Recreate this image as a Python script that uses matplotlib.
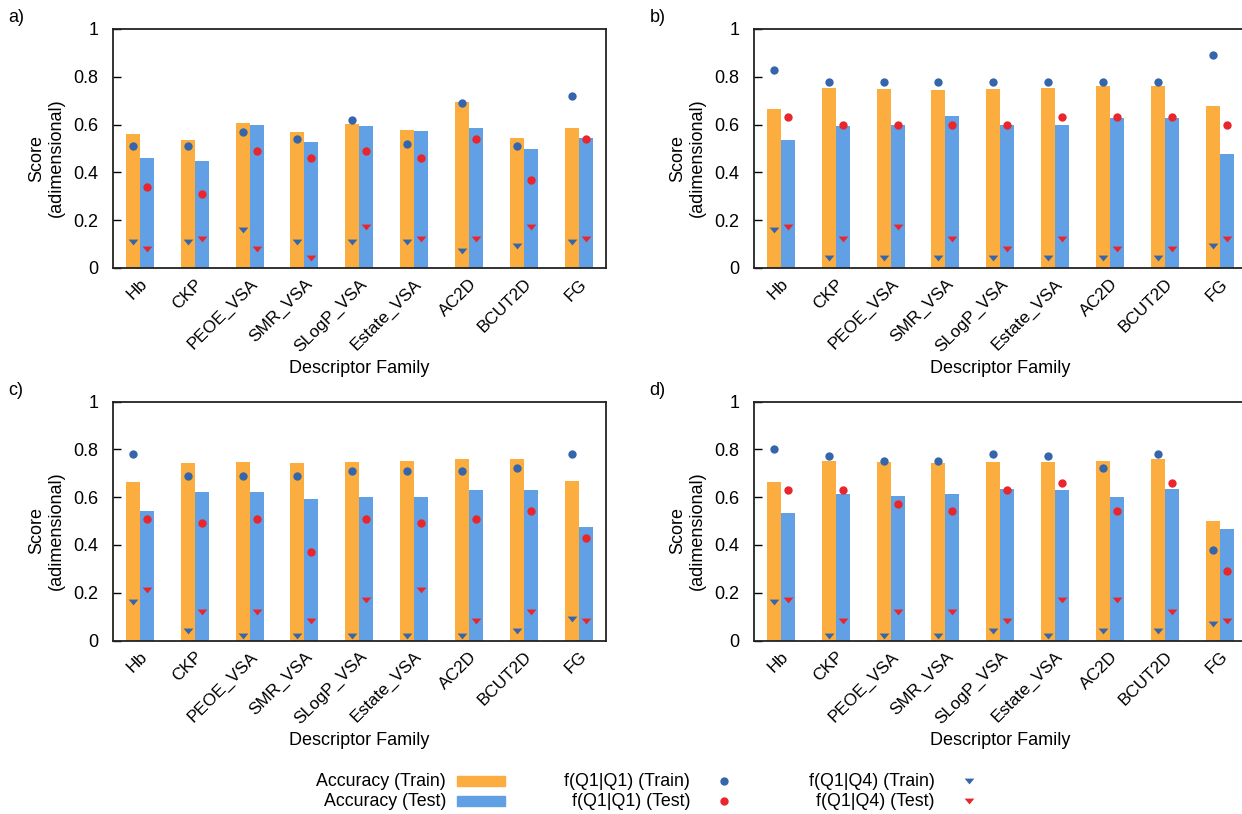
import numpy as np
import matplotlib
matplotlib.use('Agg')
import matplotlib.pyplot as plt
from matplotlib.lines import Line2D
from matplotlib.patches import Rectangle

plt.rcParams['font.family'] = ['Liberation Sans', 'DejaVu Sans']
plt.rcParams['font.size'] = 13

# descriptor families
familias = ['Hb', 'CKP', 'PEOE_VSA', 'SMR_VSA', 'SLogP_VSA', 'Estate_VSA', 'AC2D', 'BCUT2D', 'FG']

# panel a
acc_train_a = [0.56, 0.535, 0.606, 0.568, 0.602, 0.577, 0.696, 0.543, 0.585]
acc_test_a = [0.459, 0.447, 0.598, 0.527, 0.594, 0.573, 0.585, 0.497, 0.543]
q11_train_a = [0.51, 0.51, 0.57, 0.54, 0.62, 0.52, 0.69, 0.51, 0.72]
q11_test_a = [0.34, 0.31, 0.49, 0.46, 0.49, 0.46, 0.54, 0.37, 0.54]
q14_train_a = [0.11, 0.11, 0.16, 0.11, 0.11, 0.11, 0.07, 0.09, 0.11]
q14_test_a = [0.08, 0.12, 0.08, 0.04, 0.17, 0.12, 0.12, 0.17, 0.12]

# panel b
acc_train_b = [0.665, 0.753, 0.749, 0.744, 0.749, 0.753, 0.761, 0.761, 0.677]
acc_test_b = [0.535, 0.594, 0.598, 0.635, 0.598, 0.598, 0.627, 0.627, 0.476]
q11_train_b = [0.83, 0.78, 0.78, 0.78, 0.78, 0.78, 0.78, 0.78, 0.89]
q11_test_b = [0.63, 0.60, 0.60, 0.60, 0.60, 0.63, 0.63, 0.63, 0.60]
q14_train_b = [0.16, 0.04, 0.04, 0.04, 0.04, 0.04, 0.04, 0.04, 0.09]
q14_test_b = [0.17, 0.12, 0.17, 0.12, 0.08, 0.12, 0.08, 0.08, 0.12]

# panel c
acc_train_c = [0.663, 0.743, 0.747, 0.743, 0.747, 0.751, 0.759, 0.759, 0.667]
acc_test_c = [0.541, 0.621, 0.621, 0.592, 0.600, 0.600, 0.629, 0.629, 0.474]
q11_train_c = [0.78, 0.69, 0.69, 0.69, 0.71, 0.71, 0.71, 0.72, 0.78]
q11_test_c = [0.51, 0.49, 0.51, 0.37, 0.51, 0.49, 0.51, 0.54, 0.43]
q14_train_c = [0.16, 0.04, 0.02, 0.02, 0.02, 0.02, 0.02, 0.04, 0.09]
q14_test_c = [0.21, 0.12, 0.12, 0.08, 0.17, 0.21, 0.08, 0.12, 0.08]

# panel d
acc_train_d = [0.663, 0.751, 0.747, 0.743, 0.747, 0.747, 0.751, 0.759, 0.499]
acc_test_d = [0.533, 0.613, 0.604, 0.613, 0.634, 0.629, 0.600, 0.634, 0.466]
q11_train_d = [0.80, 0.77, 0.75, 0.75, 0.78, 0.77, 0.72, 0.78, 0.38]
q11_test_d = [0.63, 0.63, 0.57, 0.54, 0.63, 0.66, 0.54, 0.66, 0.29]
q14_train_d = [0.16, 0.02, 0.02, 0.02, 0.04, 0.02, 0.04, 0.04, 0.07]
q14_test_d = [0.17, 0.08, 0.12, 0.12, 0.08, 0.17, 0.17, 0.12, 0.08]

naranja = '#fbad3f'
celeste = '#62a0e6'
azul = '#3566ab'
rojo = '#e8262b'

# flattened down-triangle like gnuplot's
tri = [(-1, 0.6), (1, 0.6), (0, -0.6), (-1, 0.6)]

W, H = 1242, 814
fig = plt.figure(figsize=(W / 100, H / 100), dpi=100)

ancho = 493.5 / W
alto = 239 / H
paneles = [
    ('a)', 112.5, 29, acc_train_a, acc_test_a, q11_train_a, q11_test_a, q14_train_a, q14_test_a),
    ('b)', 753.5, 29, acc_train_b, acc_test_b, q11_train_b, q11_test_b, q14_train_b, q14_test_b),
    ('c)', 112.5, 401.5, acc_train_c, acc_test_c, q11_train_c, q11_test_c, q14_train_c, q14_test_c),
    ('d)', 753.5, 401.5, acc_train_d, acc_test_d, q11_train_d, q11_test_d, q14_train_d, q14_test_d),
]

x = np.arange(len(familias))
w = 0.255

for etiqueta, px, py, atr, ate, c_tr, c_te, t_tr, t_te in paneles:
    ax = fig.add_axes([px / W, 1 - py / H - alto, ancho, alto])
    ax.bar(x - w, atr, w, align='edge', color=naranja, zorder=1)
    ax.bar(x, ate, w, align='edge', color=celeste, zorder=1)
    ax.plot(x - w / 2, c_tr, 'o', color=azul, ms=6, mew=0, zorder=3)
    ax.plot(x + w / 2, c_te, 'o', color=rojo, ms=6, mew=0, zorder=3)
    ax.plot(x - w / 2, t_tr, marker=tri, ls='none', color=azul, ms=7, mew=0, zorder=3)
    ax.plot(x + w / 2, t_te, marker=tri, ls='none', color=rojo, ms=7, mew=0, zorder=3)

    ax.set_xlim(-0.5, 8.5)
    ax.set_ylim(0, 1)
    ax.set_yticks([0, 0.2, 0.4, 0.6, 0.8, 1])
    ax.set_yticklabels(['0', '0.2', '0.4', '0.6', '0.8', '1'])
    ax.tick_params(axis='y', direction='in', length=6, width=1, pad=10)
    ax.set_xticks(x)
    ax.set_xticklabels(familias, rotation=45, ha='right', va='top', rotation_mode='anchor',
                       fontsize=12.4)
    ax.tick_params(axis='x', length=0, pad=6)
    for s in ax.spines.values():
        s.set_linewidth(1.3)
        s.set_color('#222222')

    ax.text(-0.133, 0.46, 'Score\n(adimensional)', rotation=90, ha='center', va='center',
            multialignment='center', transform=ax.transAxes)
    ax.text(0.5, -0.42, 'Descriptor Family', ha='center', va='center', transform=ax.transAxes)
    fig.text((px - 104) / W, 1 - (py - 11) / H, etiqueta, ha='left', va='center')

# key at the bottom
def fx(p):
    return p / W

def fy(p):
    return 1 - p / H

fila1, fila2 = 781, 801
textos = [('Accuracy (Train)', 446, fila1), ('Accuracy (Test)', 446, fila2),
          ('f(Q1|Q1) (Train)', 690, fila1), ('f(Q1|Q1) (Test)', 690, fila2),
          ('f(Q1|Q4) (Train)', 935, fila1), ('f(Q1|Q4) (Test)', 935, fila2)]
for t, a, b in textos:
    fig.text(fx(a), fy(b), t, ha='right', va='center', fontsize=12.8)

for fila, c in [(fila1, naranja), (fila2, celeste)]:
    fig.add_artist(Rectangle((fx(457), fy(fila) - 4.8 / H), 48 / W, 9.6 / H, color=c,
                             transform=fig.transFigure))
fig.add_artist(Line2D([fx(724)], [fy(fila1)], marker='o', color=azul, ms=6, mew=0, transform=fig.transFigure))
fig.add_artist(Line2D([fx(724)], [fy(fila2)], marker='o', color=rojo, ms=6, mew=0, transform=fig.transFigure))
fig.add_artist(Line2D([fx(969)], [fy(fila1)], marker=tri, color=azul, ms=7, mew=0, transform=fig.transFigure))
fig.add_artist(Line2D([fx(969)], [fy(fila2)], marker=tri, color=rojo, ms=7, mew=0, transform=fig.transFigure))

fig.savefig('out.png', dpi=100)
